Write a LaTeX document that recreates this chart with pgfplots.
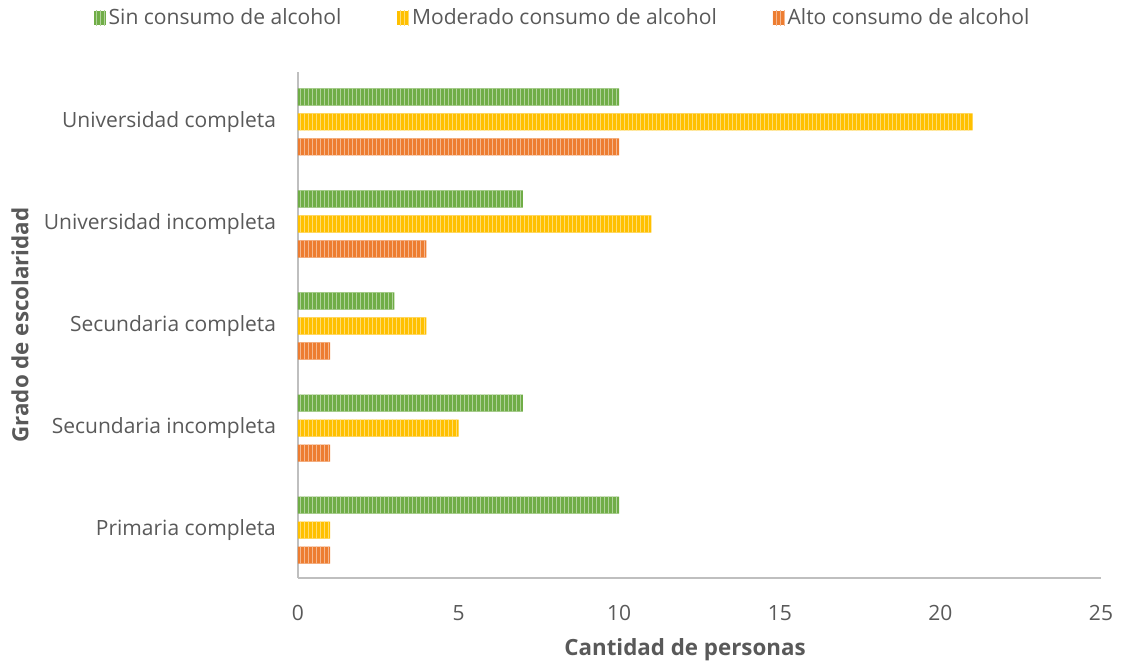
\documentclass[border=0pt]{standalone}
\usepackage{pgfplots}
\pgfplotsset{compat=1.18}
\usepackage{fontspec}
\setmainfont{Open Sans}
\usetikzlibrary{patterns}
\definecolor{cg}{HTML}{70AD47}
\definecolor{cy}{HTML}{FFC000}
\definecolor{co}{HTML}{ED7D31}
\definecolor{txt}{HTML}{595959}
\definecolor{axl}{HTML}{BFBFBF}
\begin{document}
\begin{tikzpicture}
\begin{axis}[
  at={(0,0)}, anchor=south west,
  scale only axis, width=602.25pt, height=379.5pt,
  xmin=0, xmax=25, ymin=-0.47, ymax=4.49,
  xbar, bar width=0.167,
  axis lines*=left,
  axis line style={axl, line width=1.2pt},
  xtick={0,5,...,25},
  ytick={0,1,2,3,4},
  yticklabels={Primaria completa, Secundaria incompleta, Secundaria completa, Universidad incompleta, Universidad completa},
  major tick length=0pt,
  /pgf/number format/assume math mode=true,
  tick label style={font=\fontsize{15.75}{18}\selectfont, text=txt},
  xticklabel style={yshift=-17pt},
  yticklabel style={xshift=-13pt},
  xlabel={Cantidad de personas},
  ylabel={Grado de escolaridad},
  xlabel style={at={(axis description cs:0.482,0)}, anchor=center, yshift=-53.5pt, font=\bfseries\fontsize{16.75}{18}\selectfont, text=txt},
  ylabel style={at={(axis description cs:-0.3462,0.5)}, anchor=center, font=\bfseries\fontsize{16.75}{18}\selectfont, text=txt},
  legend style={at={(axis description cs:0.33,1.107)}, anchor=center, draw=none, legend columns=3,
    font=\fontsize{15.8}{18}\selectfont, text=txt,
    /tikz/every even column/.append style={column sep=40pt}},
  legend image code/.code={\fill[#1] (0pt,-5.5pt) rectangle (9pt,5.5pt);},
]
\addplot[fill=cg, draw=none, bar shift=0.245, postaction={pattern=vertical lines, pattern color=white!45!cg}]
  coordinates {(10,0) (7,1) (3,2) (7,3) (10,4)};
\addplot[fill=cy, draw=none, bar shift=0, postaction={pattern=vertical lines, pattern color=white!45!cy}]
  coordinates {(1,0) (5,1) (4,2) (11,3) (21,4)};
\addplot[fill=co, draw=none, bar shift=-0.245, postaction={pattern=vertical lines, pattern color=white!45!co}]
  coordinates {(1,0) (1,1) (1,2) (4,3) (10,4)};
\legend{Sin consumo de alcohol, Moderado consumo de alcohol, Alto consumo de alcohol}
\end{axis}
\pgfresetboundingbox
\path (-223.5pt,-66pt) rectangle (617.25pt,433.5pt);
\end{tikzpicture}
\end{document}
